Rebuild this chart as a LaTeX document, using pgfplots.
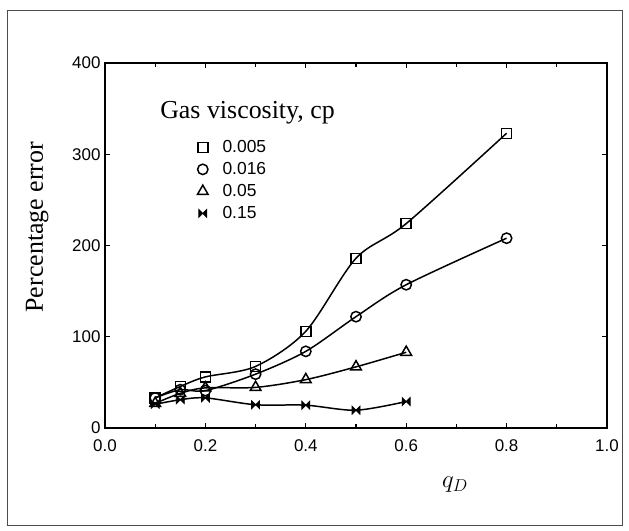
\documentclass[border=0pt]{standalone}
\usepackage{pgfplots}
\pgfplotsset{compat=1.18}
\usepackage{fontspec}
\setmainfont{Liberation Serif}
\setsansfont{Liberation Sans}
\pgfdeclareplotmark{bowtie}{%
  \pgfpathmoveto{\pgfqpoint{-\pgfplotmarksize}{\pgfplotmarksize}}%
  \pgfpathlineto{\pgfqpoint{\pgfplotmarksize}{-\pgfplotmarksize}}%
  \pgfpathlineto{\pgfqpoint{\pgfplotmarksize}{\pgfplotmarksize}}%
  \pgfpathlineto{\pgfqpoint{-\pgfplotmarksize}{-\pgfplotmarksize}}%
  \pgfpathclose
  \pgfusepathqfillstroke}
\begin{document}
\begin{tikzpicture}
\useasboundingbox (-105bp,-103bp) rectangle (524bp,428bp);
\draw[line width=0.8pt, black!70] (-98bp,-97bp) rectangle (517bp,418bp);
\begin{axis}[
  at={(0,0)}, anchor=south west,
  scale only axis, width=502bp, height=365bp,
  xmin=0, xmax=1, ymin=0, ymax=400,
  xtick={0,0.2,0.4,0.6,0.8,1.0},
  minor x tick num=1,
  ytick={0,100,200,300,400},
  tick align=inside,
  major tick length=5bp, minor tick length=4bp,
  tick style={line width=1.3pt, black},
  axis line style={line width=1.6pt},
  /pgf/number format/assume math mode=true,
  ticklabel style={font=\fontsize{17}{19}\selectfont\sffamily},
  xticklabel style={/pgf/number format/fixed, /pgf/number format/fixed zerofill, /pgf/number format/precision=1, yshift=-8bp},
  yticklabel style={xshift=-1bp},
  xlabel={$q_D$},
  xlabel style={font=\fontsize{26}{28}\selectfont, at={(axis description cs:0.697,-0.156)}, anchor=center},
  ylabel={Percentage error},
  ylabel style={font=\fontsize{26}{28}\selectfont, at={(axis description cs:-0.135,0.55)}, anchor=center},
  legend style={at={(axis description cs:0.175,0.805)}, anchor=north west, draw=none, fill=none,
    font=\fontsize{17.5}{19}\selectfont\sffamily, row sep=0pt,
    nodes={text height=13bp, text depth=3bp, inner sep=3bp}},
  legend cell align=left,
  legend image code/.code={\path (0bp,0bp) (22bp,0bp); \draw[#1,only marks] plot coordinates {(6bp,0bp)};},
]
\addplot[black, line width=1.5pt, smooth, mark=square, mark size=5bp, mark options={solid, fill=white, line width=1.5pt}] coordinates {
(0.1,33) (0.15,45.5) (0.2,56) (0.3,67.5) (0.4,106) (0.5,186) (0.6,224) (0.8,323)};
\addlegendentry{0.005}
\addplot[black, line width=1.5pt, smooth, mark=o, mark size=5.2bp, mark options={solid, fill=white, line width=1.5pt}] coordinates {
(0.1,33) (0.15,42) (0.2,41) (0.3,59) (0.4,84) (0.5,122) (0.6,157) (0.8,208)};
\addlegendentry{0.016}
\addplot[black, line width=1.5pt, smooth, mark=triangle, mark size=6.2bp, mark options={solid, fill=white, line width=1.5pt}] coordinates {
(0.1,27) (0.15,38) (0.2,44) (0.3,44.5) (0.4,53) (0.5,67) (0.6,83)};
\addlegendentry{0.05}
\addplot[black, line width=1.5pt, smooth, mark=bowtie, mark size=4bp, mark options={solid, fill=black, line width=0.8pt}] coordinates {
(0.1,26) (0.15,31) (0.2,33) (0.3,25.5) (0.4,25) (0.5,19.5) (0.6,29)};
\addlegendentry{0.15}
\node[font=\fontsize{26}{28}\selectfont] at (axis description cs:0.284,0.863) {Gas viscosity, cp};
\end{axis}
\end{tikzpicture}
\end{document}
